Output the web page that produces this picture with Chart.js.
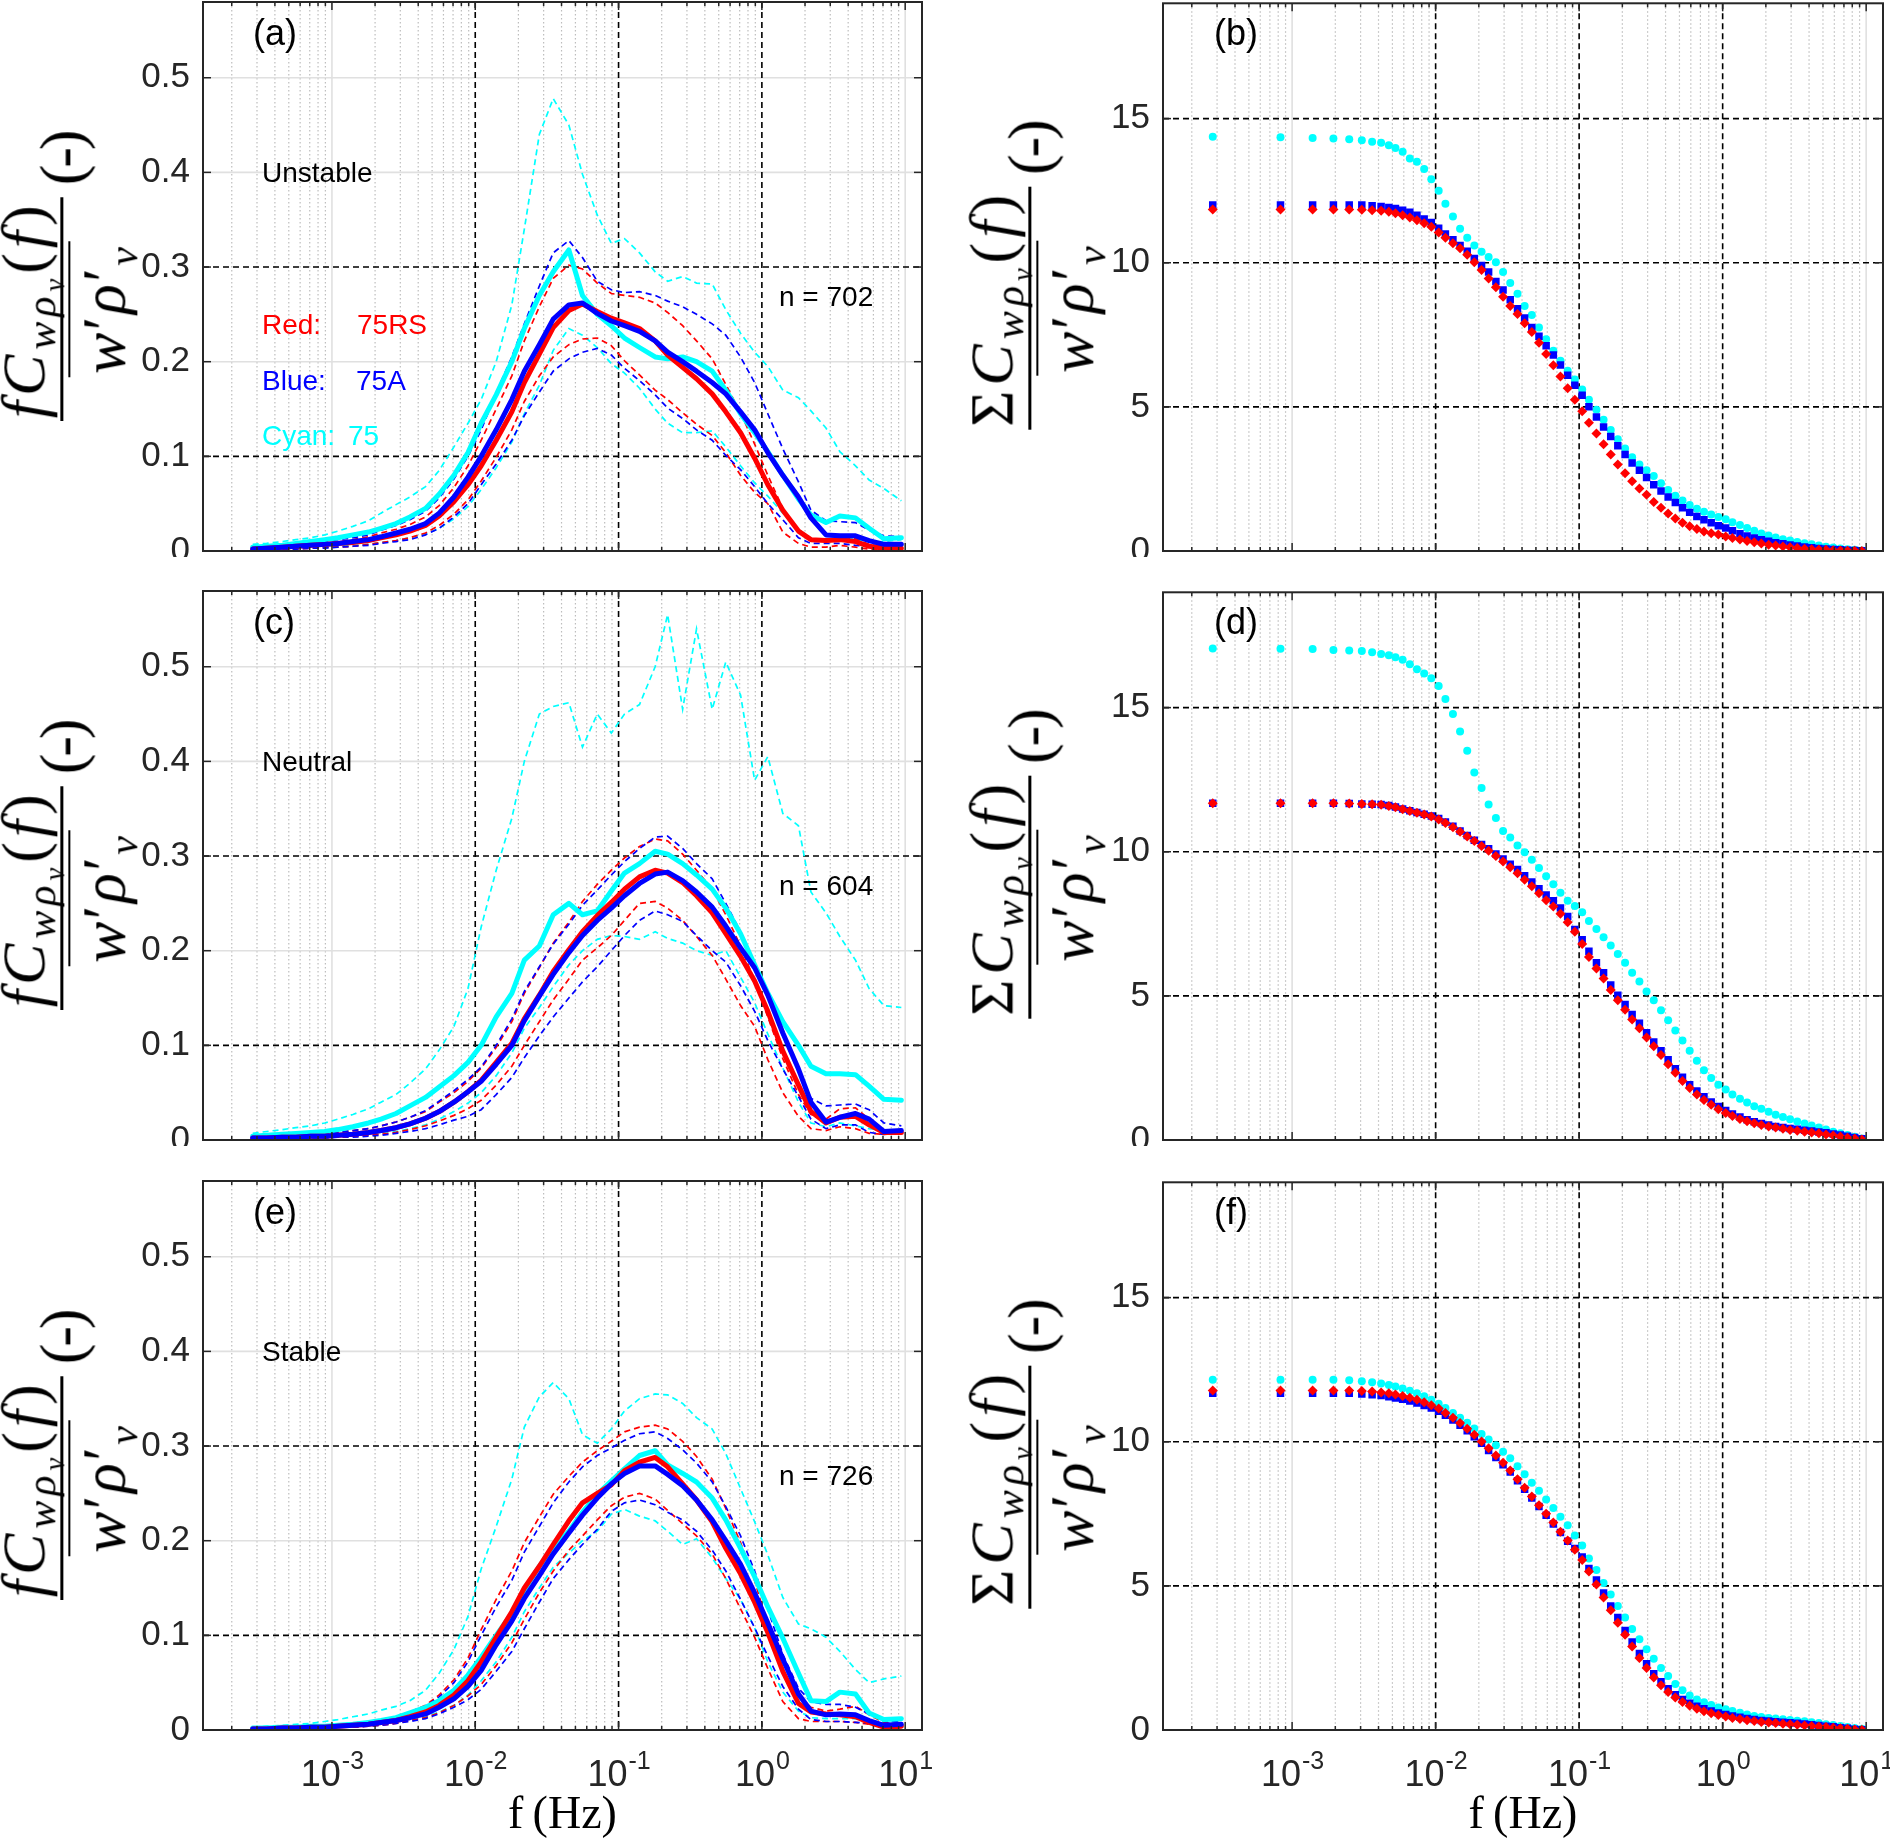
<!DOCTYPE html>
<html>
<head>
<meta charset="utf-8">
<script src="https://cdn.jsdelivr.net/npm/chart.js@4.4.0/dist/chart.umd.min.js"></script>
<style>
html, body { margin: 0; padding: 0; background: #fff; }
body { width: 1890px; height: 1848px; overflow: hidden; position: relative; font-family: "Liberation Sans", Arial, sans-serif; }
.panel { position: absolute; }
.txt { position: absolute; white-space: nowrap; line-height: 1; }
.ylab { position: absolute; transform: translate(-50%, -50%) rotate(-90deg); font-family: "Liberation Serif", "Times New Roman", serif; font-size: 62px; display: flex; align-items: center; white-space: nowrap; color: #000; }
.ylab sub { font-size: 68%; vertical-align: -0.32em; line-height: 0; }
.frac { display: inline-flex; flex-direction: column; align-items: center; margin-right: 12px; }
.frac .num { height: 1.2em; box-sizing: border-box; display: flex; align-items: flex-end; padding: 0 3px 6px; line-height: 1; letter-spacing: 0.08em; }
.frac .bar { align-self: stretch; height: 2.5px; background: #000; }
.frac .den { height: 1.2em; box-sizing: border-box; display: flex; align-items: flex-start; justify-content: center; padding-top: 5px; line-height: 1; letter-spacing: 0.04em; }
.frac .ovl { border-top: 2.5px solid #000; padding: 2px 3px 0; }
.unit { font-size: 62px; letter-spacing: -0.05em; font-weight: normal; }
.xlab { position: absolute; font-family: "Liberation Serif", "Times New Roman", serif; font-size: 46px; white-space: nowrap; line-height: 1; transform: translateX(-50%); }
</style>
</head>
<body>
<script>
// frequency grid of the spectra (Hz)
const F = [0.00028, 0.00035, 0.00045, 0.00056, 0.00071, 0.00089, 0.0011, 0.0014, 0.0018, 0.0022,
    0.0028, 0.0035, 0.0045, 0.0056, 0.0071, 0.0089, 0.011, 0.014, 0.018, 0.022,
    0.028, 0.035, 0.045, 0.056, 0.071, 0.089, 0.11, 0.14, 0.18, 0.22,
    0.28, 0.35, 0.45, 0.56, 0.71, 0.89, 1.1, 1.4, 1.8, 2.2,
    2.8, 3.5, 4.5, 5.6, 7.1, 9.4];

// (a) unstable
const a_cyan = [.004, .005, .006, .008, .010, .012, .014, .017, .020, .024, .029, .036, .045, .060, .080, .104, .135, .165, .200, .235, .270, .295, .318, .270, .250, .238, .225, .215, .205, .203, .205, .200, .190, .170, .145, .125, .105, .080, .055, .038, .030, .037, .035, .024, .013, .014];
const a_cyan_hi = [.007, .008, .010, .012, .014, .017, .021, .026, .032, .040, .049, .057, .068, .085, .110, .135, .160, .200, .260, .340, .440, .478, .450, .398, .355, .325, .330, .315, .295, .285, .290, .283, .282, .255, .230, .210, .195, .170, .162, .148, .130, .105, .090, .075, .066, .053];
const a_cyan_lo = [.001, .002, .002, .003, .004, .004, .005, .006, .007, .009, .011, .014, .018, .024, .034, .047, .065, .088, .115, .145, .175, .212, .235, .228, .215, .198, .188, .172, .150, .135, .125, .125, .127, .110, .090, .072, .058, .040, .023, .013, .012, .015, .012, .010, .010, .012];
const a_blue = [.002, .003, .004, .005, .006, .007, .008, .010, .012, .015, .019, .023, .029, .040, .057, .078, .100, .128, .160, .190, .218, .245, .260, .262, .251, .243, .238, .232, .222, .210, .200, .190, .178, .166, .147, .128, .104, .080, .057, .035, .017, .016, .016, .011, .007, .007];
const a_blue_hi = [.003, .004, .005, .006, .008, .010, .012, .014, .017, .022, .027, .033, .042, .056, .076, .100, .128, .167, .205, .240, .280, .315, .328, .310, .285, .276, .273, .274, .270, .264, .258, .250, .240, .228, .205, .178, .145, .108, .073, .043, .032, .031, .030, .022, .016, .015];
const a_blue_lo = [.001, .001, .002, .002, .003, .003, .004, .005, .006, .008, .010, .012, .017, .024, .036, .050, .070, .092, .117, .143, .168, .190, .203, .210, .214, .207, .193, .180, .165, .151, .140, .128, .117, .101, .086, .068, .050, .033, .014, .008, .008, .008, .006, .005, .007, .008];
const a_red = [.002, .003, .004, .005, .006, .007, .008, .009, .011, .014, .017, .021, .027, .037, .052, .070, .090, .117, .147, .178, .208, .236, .254, .261, .253, .246, .241, .235, .222, .207, .194, .182, .166, .147, .125, .098, .070, .043, .021, .012, .011, .012, .010, .005, .003, .003];
const a_red_hi = [.002, .003, .004, .005, .007, .008, .010, .012, .015, .019, .023, .028, .036, .048, .067, .090, .117, .150, .185, .222, .258, .288, .302, .298, .283, .272, .270, .268, .262, .252, .238, .222, .203, .176, .146, .113, .080, .045, .022, .012, .010, .015, .013, .007, .004, .004];
const a_red_lo = [.001, .001, .002, .002, .003, .004, .004, .005, .007, .009, .011, .014, .019, .027, .039, .054, .074, .099, .128, .158, .185, .205, .218, .224, .225, .217, .201, .186, .170, .160, .146, .134, .122, .104, .080, .062, .050, .020, .008, .004, .004, .006, .004, .002, .002, .002];

// (c) neutral
const c_cyan = [.004, .005, .006, .007, .008, .009, .011, .014, .018, .022, .028, .036, .045, .056, .068, .082, .100, .130, .155, .190, .205, .238, .250, .238, .242, .263, .282, .292, .305, .302, .292, .280, .265, .245, .218, .185, .155, .125, .100, .078, .070, .070, .069, .057, .043, .042];
const c_cyan_hi = [.007, .009, .011, .013, .015, .018, .022, .027, .033, .040, .048, .060, .075, .095, .120, .160, .225, .285, .340, .400, .450, .458, .462, .415, .450, .430, .450, .460, .500, .555, .455, .540, .455, .505, .470, .380, .405, .345, .332, .262, .240, .215, .190, .160, .142, .140];
const c_cyan_lo = [.001, .001, .002, .002, .002, .003, .003, .004, .005, .007, .009, .012, .016, .022, .030, .039, .050, .068, .092, .118, .140, .162, .185, .200, .212, .216, .215, .212, .220, .213, .208, .200, .195, .200, .172, .145, .112, .076, .040, .018, .014, .018, .015, .012, .010, .011];
const c_blue = [.002, .002, .003, .003, .004, .004, .005, .006, .008, .010, .013, .017, .023, .030, .040, .051, .062, .080, .100, .126, .152, .175, .198, .216, .232, .245, .258, .271, .281, .283, .274, .262, .246, .226, .203, .182, .153, .113, .075, .040, .019, .024, .028, .022, .009, .010];
const c_blue_hi = [.003, .003, .004, .005, .006, .007, .008, .010, .012, .015, .019, .024, .031, .041, .052, .064, .077, .100, .128, .157, .183, .207, .228, .248, .264, .280, .294, .308, .320, .321, .308, .292, .276, .250, .220, .185, .150, .110, .072, .044, .036, .037, .038, .032, .018, .015];
const c_blue_lo = [.001, .001, .001, .002, .002, .002, .003, .003, .004, .005, .007, .009, .012, .016, .021, .025, .032, .048, .066, .087, .110, .130, .150, .167, .183, .200, .216, .232, .242, .238, .231, .216, .200, .188, .163, .136, .105, .075, .046, .022, .012, .016, .016, .008, .006, .010];
const c_red = [.002, .002, .003, .003, .004, .004, .005, .006, .008, .010, .013, .017, .023, .030, .040, .051, .063, .082, .102, .128, .153, .178, .201, .220, .237, .251, .265, .278, .285, .282, .272, .258, .240, .218, .194, .168, .136, .094, .058, .030, .018, .024, .025, .016, .008, .008];
const c_red_hi = [.003, .003, .004, .005, .006, .007, .008, .010, .012, .015, .019, .024, .030, .040, .050, .062, .076, .098, .125, .155, .182, .208, .230, .252, .270, .285, .298, .310, .318, .316, .302, .285, .265, .238, .205, .168, .130, .086, .048, .027, .022, .033, .034, .022, .010, .008];
const c_red_lo = [.001, .001, .002, .002, .002, .003, .003, .004, .005, .006, .008, .011, .015, .020, .026, .033, .042, .058, .078, .100, .125, .148, .170, .190, .203, .216, .232, .250, .252, .245, .232, .215, .195, .170, .142, .120, .085, .050, .025, .012, .010, .014, .012, .007, .006, .007];

// (e) stable
const e_cyan = [.002, .002, .003, .003, .004, .004, .005, .006, .008, .010, .013, .018, .024, .031, .042, .058, .077, .100, .123, .148, .173, .192, .210, .230, .249, .263, .276, .290, .295, .280, .271, .262, .245, .222, .192, .162, .130, .097, .060, .031, .030, .040, .038, .018, .011, .012];
const e_cyan_hi = [.003, .004, .005, .006, .007, .009, .011, .014, .017, .021, .025, .031, .042, .060, .085, .120, .170, .215, .265, .320, .352, .367, .350, .312, .303, .318, .337, .350, .355, .354, .345, .330, .318, .292, .255, .220, .185, .140, .112, .107, .098, .083, .064, .050, .054, .057];
const e_cyan_lo = [.001, .001, .001, .002, .002, .003, .003, .004, .005, .006, .008, .011, .014, .019, .026, .037, .052, .072, .098, .125, .150, .172, .187, .200, .210, .228, .233, .226, .221, .210, .196, .202, .182, .160, .138, .108, .072, .040, .020, .013, .012, .012, .012, .010, .008, .009];
const e_blue = [.001, .001, .002, .002, .003, .003, .004, .005, .006, .008, .010, .013, .017, .024, .033, .046, .063, .090, .115, .139, .163, .186, .208, .227, .245, .260, .271, .279, .279, .270, .258, .243, .222, .200, .175, .145, .113, .075, .038, .020, .016, .017, .016, .010, .005, .006];
const e_blue_hi = [.002, .002, .003, .003, .004, .005, .006, .007, .009, .011, .014, .019, .025, .035, .050, .072, .100, .130, .158, .188, .215, .240, .262, .278, .290, .298, .306, .313, .315, .308, .296, .282, .262, .236, .205, .168, .128, .080, .044, .030, .027, .027, .024, .017, .010, .009];
const e_blue_lo = [.001, .001, .001, .002, .002, .002, .003, .003, .004, .005, .007, .009, .012, .017, .024, .032, .043, .062, .083, .107, .135, .160, .180, .196, .212, .231, .240, .243, .238, .230, .222, .210, .190, .168, .138, .108, .078, .046, .022, .011, .009, .009, .008, .007, .007, .007];
const e_red = [.001, .001, .002, .002, .003, .003, .004, .005, .006, .008, .010, .014, .019, .026, .037, .052, .072, .098, .125, .150, .173, .196, .221, .240, .250, .259, .274, .283, .288, .278, .260, .243, .220, .192, .165, .135, .103, .062, .028, .019, .017, .016, .014, .008, .003, .004];
const e_red_hi = [.002, .002, .003, .003, .004, .005, .006, .007, .009, .011, .014, .019, .026, .037, .053, .076, .106, .138, .168, .198, .225, .249, .268, .283, .295, .305, .315, .320, .322, .318, .305, .289, .265, .234, .198, .158, .110, .063, .035, .024, .020, .022, .025, .016, .008, .006];
const e_red_lo = [.001, .001, .001, .002, .002, .002, .003, .003, .004, .005, .007, .010, .013, .018, .026, .036, .048, .068, .092, .117, .145, .168, .190, .205, .222, .237, .246, .250, .244, .232, .218, .205, .186, .160, .128, .098, .065, .030, .012, .009, .009, .009, .008, .006, .004, .004];

// frequency grid of the cumulative sums (Hz)
const FC = [0.00028, 0.00083, 0.00139, 0.00194, 0.0025, 0.00306, 0.00361, 0.00417, 0.00472,
    0.00525, 0.00589, 0.00661, 0.00741, 0.00832, 0.00933,
    0.0105, 0.0117, 0.0132, 0.0148, 0.0166, 0.0186, 0.0209, 0.0234, 0.0263, 0.0295, 0.0331, 0.0372, 0.0417, 0.0468, 0.0525, 0.0589, 0.0661, 0.0741, 0.0832, 0.0933,
    0.105, 0.117, 0.132, 0.148, 0.166, 0.186, 0.209, 0.234, 0.263, 0.295, 0.331, 0.372, 0.417, 0.468, 0.525, 0.589, 0.661, 0.741, 0.832, 0.933,
    1.05, 1.17, 1.32, 1.48, 1.66, 1.86, 2.09, 2.34, 2.63, 2.95, 3.31, 3.72, 4.17, 4.68, 5.25, 5.89, 6.61, 7.41, 8.32, 9.33];

// (b) unstable
const b_cyan = [14.37, 14.35, 14.33, 14.31, 14.28, 14.25, 14.2, 14.16, 14.08, 13.98, 13.85, 13.62, 13.5, 13.25, 12.9, 12.5, 12.05, 11.6, 11.18, 10.87, 10.6, 10.38, 10.2, 10.02, 9.68, 9.3, 8.92, 8.5, 8.19, 7.75, 7.35, 6.95, 6.6, 6.25, 5.95, 5.6, 5.25, 4.9, 4.55, 4.2, 3.88, 3.56, 3.25, 3.0, 2.8, 2.6, 2.35, 2.12, 1.92, 1.75, 1.6, 1.47, 1.36, 1.27, 1.18, 1.1, 1.0, 0.9, 0.8, 0.7, 0.61, 0.54, 0.47, 0.41, 0.36, 0.31, 0.27, 0.23, 0.19, 0.15, 0.12, 0.09, 0.06, 0.04, 0.02];
const b_blue = [12.0, 12.0, 12.0, 12.0, 12.0, 12.0, 11.98, 11.95, 11.92, 11.88, 11.82, 11.75, 11.65, 11.52, 11.4, 11.2, 11.0, 10.8, 10.6, 10.4, 10.15, 9.9, 9.68, 9.35, 9.05, 8.72, 8.4, 8.08, 7.75, 7.45, 7.12, 6.8, 6.45, 6.1, 5.75, 5.4, 5.0, 4.65, 4.3, 3.97, 3.65, 3.35, 3.05, 2.8, 2.55, 2.3, 2.08, 1.87, 1.68, 1.5, 1.34, 1.2, 1.08, 0.98, 0.88, 0.8, 0.7, 0.6, 0.52, 0.45, 0.39, 0.34, 0.29, 0.25, 0.21, 0.17, 0.14, 0.11, 0.09, 0.07, 0.05, 0.04, 0.03, 0.02, 0.01];
const b_red = [11.85, 11.85, 11.85, 11.85, 11.85, 11.84, 11.82, 11.8, 11.77, 11.72, 11.65, 11.57, 11.47, 11.37, 11.25, 11.05, 10.87, 10.68, 10.5, 10.28, 10.02, 9.75, 9.45, 9.15, 8.82, 8.5, 8.22, 7.9, 7.6, 7.22, 6.83, 6.44, 6.05, 5.65, 5.25, 4.85, 4.45, 4.08, 3.7, 3.35, 3.0, 2.7, 2.42, 2.17, 1.95, 1.7, 1.5, 1.3, 1.13, 0.98, 0.86, 0.76, 0.68, 0.62, 0.57, 0.5, 0.45, 0.4, 0.35, 0.3, 0.26, 0.22, 0.19, 0.16, 0.13, 0.1, 0.08, 0.06, 0.05, 0.04, 0.03, 0.02, 0.01, 0.01, 0.0];

// (d) neutral
const d_cyan = [17.05, 17.04, 17.03, 17.0, 16.98, 16.96, 16.92, 16.86, 16.82, 16.75, 16.66, 16.5, 16.33, 16.18, 16.02, 15.75, 15.3, 14.78, 14.17, 13.5, 12.75, 12.21, 11.64, 11.17, 10.72, 10.49, 10.22, 9.98, 9.72, 9.44, 9.15, 8.87, 8.58, 8.3, 8.12, 7.9, 7.6, 7.32, 7.03, 6.75, 6.45, 6.15, 5.8, 5.5, 5.15, 4.85, 4.5, 4.15, 3.8, 3.45, 3.1, 2.75, 2.42, 2.15, 1.92, 1.75, 1.58, 1.43, 1.3, 1.17, 1.08, 0.98, 0.88, 0.8, 0.72, 0.64, 0.57, 0.5, 0.43, 0.36, 0.29, 0.23, 0.17, 0.11, 0.05];
const d_blue = [11.68, 11.68, 11.68, 11.68, 11.67, 11.66, 11.65, 11.64, 11.6, 11.55, 11.48, 11.42, 11.36, 11.3, 11.24, 11.15, 11.03, 10.88, 10.72, 10.56, 10.4, 10.25, 10.1, 9.92, 9.75, 9.57, 9.38, 9.17, 8.95, 8.72, 8.5, 8.3, 8.05, 7.75, 7.3, 6.95, 6.55, 6.15, 5.8, 5.38, 5.02, 4.7, 4.35, 4.05, 3.72, 3.4, 3.1, 2.78, 2.47, 2.18, 1.92, 1.7, 1.5, 1.32, 1.16, 1.02, 0.9, 0.8, 0.7, 0.63, 0.57, 0.52, 0.47, 0.43, 0.4, 0.37, 0.34, 0.31, 0.28, 0.25, 0.21, 0.17, 0.13, 0.09, 0.04];
const d_red = [11.68, 11.68, 11.68, 11.68, 11.67, 11.66, 11.65, 11.63, 11.59, 11.54, 11.47, 11.41, 11.35, 11.29, 11.22, 11.12, 11.0, 10.85, 10.69, 10.53, 10.37, 10.2, 10.03, 9.85, 9.66, 9.46, 9.25, 9.03, 8.8, 8.56, 8.32, 8.1, 7.85, 7.55, 7.22, 6.8, 6.35, 5.95, 5.6, 5.2, 4.85, 4.52, 4.18, 3.88, 3.56, 3.25, 2.95, 2.63, 2.33, 2.05, 1.8, 1.58, 1.39, 1.22, 1.07, 0.94, 0.83, 0.73, 0.65, 0.58, 0.52, 0.47, 0.43, 0.39, 0.35, 0.32, 0.29, 0.26, 0.23, 0.19, 0.16, 0.12, 0.08, 0.05, 0.02];

// (f) stable
const f_cyan = [12.15, 12.15, 12.15, 12.15, 12.13, 12.1, 12.06, 12.02, 11.97, 11.92, 11.85, 11.77, 11.68, 11.58, 11.46, 11.32, 11.17, 11.0, 10.83, 10.66, 10.46, 10.27, 10.08, 9.88, 9.65, 9.43, 9.15, 8.87, 8.58, 8.3, 8.0, 7.7, 7.4, 7.1, 6.75, 6.4, 5.95, 5.55, 5.1, 4.7, 4.3, 3.9, 3.5, 3.15, 2.8, 2.47, 2.15, 1.87, 1.6, 1.38, 1.2, 1.06, 0.96, 0.87, 0.78, 0.72, 0.66, 0.6, 0.54, 0.49, 0.45, 0.42, 0.4, 0.37, 0.35, 0.32, 0.3, 0.27, 0.24, 0.2, 0.17, 0.14, 0.1, 0.07, 0.04];
const f_blue = [11.68, 11.68, 11.68, 11.68, 11.68, 11.66, 11.63, 11.6, 11.56, 11.52, 11.47, 11.41, 11.34, 11.26, 11.17, 11.06, 10.92, 10.75, 10.57, 10.38, 10.17, 9.95, 9.7, 9.45, 9.2, 8.95, 8.65, 8.35, 8.05, 7.75, 7.45, 7.15, 6.85, 6.55, 6.3, 6.0, 5.6, 5.2, 4.75, 4.3, 3.9, 3.45, 3.05, 2.65, 2.3, 1.95, 1.67, 1.43, 1.22, 1.06, 0.93, 0.82, 0.74, 0.66, 0.59, 0.54, 0.49, 0.44, 0.4, 0.36, 0.33, 0.31, 0.29, 0.27, 0.25, 0.23, 0.21, 0.18, 0.16, 0.13, 0.11, 0.08, 0.06, 0.03, 0.01];
const f_red = [11.78, 11.78, 11.78, 11.78, 11.78, 11.76, 11.74, 11.71, 11.68, 11.64, 11.59, 11.53, 11.46, 11.37, 11.27, 11.15, 11.0, 10.83, 10.65, 10.45, 10.24, 10.01, 9.77, 9.52, 9.27, 9.0, 8.7, 8.4, 8.1, 7.8, 7.5, 7.2, 6.88, 6.57, 6.25, 5.9, 5.5, 5.05, 4.6, 4.15, 3.72, 3.3, 2.9, 2.5, 2.15, 1.82, 1.55, 1.32, 1.13, 0.97, 0.84, 0.74, 0.65, 0.58, 0.52, 0.47, 0.42, 0.38, 0.34, 0.31, 0.28, 0.26, 0.24, 0.22, 0.2, 0.18, 0.16, 0.14, 0.12, 0.1, 0.08, 0.06, 0.04, 0.02, 0.01];

// axes
const X_TICKS = [0.001, 0.01, 0.1, 1, 10];
const X_TICK_EXP = ['-3', '-2', '-1', '0', '1'];
const SPEC_Y_TICKS = [0, 0.1, 0.2, 0.3, 0.4, 0.5];
const SPEC_Y_LABELS = ['0', '0.1', '0.2', '0.3', '0.4', '0.5'];
const CUM_Y_TICKS = [0, 5, 10, 15];
const CUM_Y_LABELS = ['0', '5', '10', '15'];

const PANEL_TAGS = [['(a)', '(b)'], ['(c)', '(d)'], ['(e)', '(f)']];
const STABILITY = ['Unstable', 'Neutral', 'Stable'];
const COUNTS = ['n = 702', 'n = 604', 'n = 726'];
const LEGEND = [['Red:', '75RS'], ['Blue:', '75A'], ['Cyan:', '75']];

// layout
const COL_LEFT = [203, 1163];
const COL_WIDTH = [719, 720];
const ROW_TOP = [1.5, 590.5, 1180.5];
const PLOT_H = 549.5;
const Y_AXIS_W = 90, PAD_TOP = 4, PAD_RIGHT = 40;
const X_MIN = 1.26e-4, X_MAX = 13.1;
const RED = '#ff0000', BLUE = '#0000ff', CYAN = '#00ffff';
const SANS = '"Liberation Sans", Arial, sans-serif';
const TICK_FONT = { family: SANS, size: 35 };

const MINOR_X = [];
for (let e = -4; e <= 1; e++) {
    for (let m = 2; m <= 9; m++) MINOR_X.push(m * Math.pow(10, e));
}

const panel_grid = {
    id: 'panel_grid',
    beforeDatasetsDraw(chart, args, o) {
        const ctx = chart.ctx, a = chart.chartArea, sx = chart.scales.x, sy = chart.scales.y;
        const vline = (v) => {
            const p = sx.getPixelForValue(v);
            if (p < a.left + 1 || p > a.right - 1) return;
            ctx.beginPath(); ctx.moveTo(p, a.top); ctx.lineTo(p, a.bottom); ctx.stroke();
        };
        const hline = (v) => {
            const p = sy.getPixelForValue(v);
            if (p < a.top + 1 || p > a.bottom - 1) return;
            ctx.beginPath(); ctx.moveTo(a.left, p); ctx.lineTo(a.right, p); ctx.stroke();
        };
        ctx.save();
        ctx.lineWidth = 1.2;
        ctx.strokeStyle = '#bdbdbd';
        ctx.setLineDash([1.5, 2.5]);
        MINOR_X.forEach(vline);
        ctx.setLineDash([]);
        ctx.strokeStyle = '#e0e0e0';
        ctx.lineWidth = 1.6;
        o.gray_x.forEach(vline);
        o.gray_y.forEach(hline);
        ctx.setLineDash([6, 4]);
        ctx.strokeStyle = '#000';
        ctx.lineWidth = 1.6;
        o.dash_x.forEach(vline);
        o.dash_y.forEach(hline);
        ctx.restore();
    },
    afterDatasetsDraw(chart, args, o) {
        const ctx = chart.ctx, a = chart.chartArea, sx = chart.scales.x, sy = chart.scales.y;
        const seg = (x1, y1, x2, y2) => { ctx.beginPath(); ctx.moveTo(x1, y1); ctx.lineTo(x2, y2); ctx.stroke(); };
        ctx.save();
        ctx.strokeStyle = '#262626';
        ctx.lineWidth = 1.5;
        o.y_ticks.forEach(v => {
            const p = sy.getPixelForValue(v);
            seg(a.left, p, a.left + 8, p);
            seg(a.right - 8, p, a.right, p);
        });
        X_TICKS.forEach(v => {
            const p = sx.getPixelForValue(v);
            if (p > a.right) return;
            seg(p, a.bottom, p, a.bottom - 8);
            seg(p, a.top, p, a.top + 8);
        });
        MINOR_X.forEach(v => {
            const p = sx.getPixelForValue(v);
            if (p < a.left || p > a.right) return;
            seg(p, a.bottom, p, a.bottom - 4);
            seg(p, a.top, p, a.top + 4);
        });
        ctx.lineWidth = 2;
        ctx.strokeRect(a.left, a.top, a.right - a.left, a.bottom - a.top);
        // decade labels 10^k under the bottom row
        if (o.x_labels) {
            ctx.fillStyle = '#262626';
            ctx.textBaseline = 'alphabetic';
            ctx.textAlign = 'left';
            X_TICKS.forEach((v, i) => {
                const p = sx.getPixelForValue(v);
                ctx.font = '36px ' + SANS;
                const wb = ctx.measureText('10').width;
                ctx.font = '25px ' + SANS;
                const we = ctx.measureText(X_TICK_EXP[i]).width;
                const x0 = p - (wb + we) / 2;
                ctx.font = '36px ' + SANS;
                ctx.fillText('10', x0, a.bottom + 56);
                ctx.font = '25px ' + SANS;
                ctx.fillText(X_TICK_EXP[i], x0 + wb + 1, a.bottom + 39);
            });
        }
        ctx.restore();
    }
};
Chart.register(panel_grid);

function pts(xs, ys) {
    return xs.map((x, i) => ({ x: x, y: ys[i] }));
}

function solid(data, color) {
    return { data: pts(F, data), borderColor: color, borderWidth: 5, pointRadius: 0, borderJoinStyle: 'round', borderCapStyle: 'round', tension: 0 };
}

function dashed(data, color) {
    return { data: pts(F, data), borderColor: color, borderWidth: 1.7, borderDash: [6, 4], pointRadius: 0, tension: 0 };
}

function marks(data, color, style, radius) {
    return { data: pts(FC, data), backgroundColor: color, borderColor: color, borderWidth: 0, pointStyle: style, pointRadius: radius, showLine: false };
}

function build_panel(col, row, type, datasets, y_max, y_ticks, y_labels, grid) {
    const bottom_row = row === 2;
    const x_axis_h = bottom_row ? 80 : 6;
    const w = Y_AXIS_W + COL_WIDTH[col] + PAD_RIGHT;
    const h = PAD_TOP + PLOT_H + x_axis_h;
    const wrap = document.createElement('div');
    wrap.className = 'panel';
    wrap.style.left = (COL_LEFT[col] - Y_AXIS_W) + 'px';
    wrap.style.top = (ROW_TOP[row] - PAD_TOP) + 'px';
    wrap.style.width = w + 'px';
    wrap.style.height = h + 'px';
    const cv = document.createElement('canvas');
    cv.width = w;
    cv.height = h;
    cv.style.width = w + 'px';
    cv.style.height = h + 'px';
    wrap.appendChild(cv);
    document.body.appendChild(wrap);
    grid.y_ticks = y_ticks;
    grid.x_labels = bottom_row;
    return new Chart(cv.getContext('2d'), {
        type: type,
        data: { datasets: datasets },
        options: {
            responsive: false,
            animation: false,
            events: [],
            layout: { padding: { left: 0, top: PAD_TOP, right: PAD_RIGHT, bottom: 0 } },
            plugins: { legend: { display: false }, tooltip: { enabled: false }, panel_grid: grid },
            scales: {
                x: {
                    type: 'logarithmic',
                    min: X_MIN,
                    max: X_MAX,
                    grid: { display: false, drawTicks: false },
                    border: { display: false },
                    ticks: { display: false },
                    afterBuildTicks: s => { s.ticks = X_TICKS.map(v => ({ value: v })); },
                    afterFit: s => { s.height = x_axis_h; s.paddingLeft = 0; s.paddingRight = 0; }
                },
                y: {
                    type: 'linear',
                    min: 0,
                    max: y_max,
                    grid: { display: false, drawTicks: false },
                    border: { display: false },
                    ticks: {
                        padding: 13,
                        color: '#262626',
                        font: TICK_FONT,
                        callback: (v, i) => y_labels[i]
                    },
                    afterBuildTicks: s => { s.ticks = y_ticks.map(v => ({ value: v })); },
                    afterFit: s => { s.width = Y_AXIS_W; s.paddingTop = 0; s.paddingBottom = 0; }
                }
            }
        }
    });
}

const spectra = [
    [a_blue, a_red, a_cyan, a_blue_hi, a_blue_lo, a_red_hi, a_red_lo, a_cyan_hi, a_cyan_lo],
    [c_blue, c_red, c_cyan, c_blue_hi, c_blue_lo, c_red_hi, c_red_lo, c_cyan_hi, c_cyan_lo],
    [e_blue, e_red, e_cyan, e_blue_hi, e_blue_lo, e_red_hi, e_red_lo, e_cyan_hi, e_cyan_lo]
];
const ogives = [
    [b_red, b_blue, b_cyan],
    [d_red, d_blue, d_cyan],
    [f_red, f_blue, f_cyan]
];

for (let r = 0; r < 3; r++) {
    const s = spectra[r];
    build_panel(0, r, 'line', [
        solid(s[0], BLUE), solid(s[1], RED), solid(s[2], CYAN),
        dashed(s[3], BLUE), dashed(s[4], BLUE),
        dashed(s[5], RED), dashed(s[6], RED),
        dashed(s[7], CYAN), dashed(s[8], CYAN)
    ], 0.58, SPEC_Y_TICKS, SPEC_Y_LABELS,
        { gray_x: [0.001, 10], gray_y: [0.2, 0.4, 0.5], dash_x: [0.01, 0.1, 1], dash_y: [0.1, 0.3] });

    const g = ogives[r];
    build_panel(1, r, 'scatter', [
        marks(g[0], RED, 'rectRot', 5),
        marks(g[1], BLUE, 'rect', 5.3),
        marks(g[2], CYAN, 'circle', 4)
    ], 19, CUM_Y_TICKS, CUM_Y_LABELS,
        { gray_x: [0.001, 10], gray_y: [], dash_x: [0.01, 0.1, 1], dash_y: [5, 10, 15] });
}

// texts
function put_text(txt, left, baseline, size, color) {
    const d = document.createElement('div');
    d.className = 'txt';
    d.textContent = txt;
    d.style.left = left + 'px';
    d.style.top = (baseline - 0.8465 * size) + 'px';
    d.style.fontSize = size + 'px';
    d.style.color = color || '#000';
    document.body.appendChild(d);
}

const DEN = '<span class="bar"></span><span class="den"><span class="ovl"><i>w</i>′<i>ρ</i>′<sub><i>v</i></sub></span></span></span><span class="unit">(-)</span>';
const LEFT_LABEL = '<span class="frac"><span class="num"><i>f</i><i>C</i><sub><i>wρ</i><sub><i>v</i></sub></sub>(<i>f</i>)</span>' + DEN;
const RIGHT_LABEL = '<span class="frac"><span class="num">Σ<i>C</i><sub><i>wρ</i><sub><i>v</i></sub></sub>(<i>f</i>)</span>' + DEN;

function put_ylabel(html, cx, cy) {
    const d = document.createElement('div');
    d.className = 'ylab';
    d.innerHTML = html;
    d.style.left = cx + 'px';
    d.style.top = cy + 'px';
    document.body.appendChild(d);
}

for (let r = 0; r < 3; r++) {
    const top = ROW_TOP[r];
    put_text(PANEL_TAGS[r][0], COL_LEFT[0] + 50, top + 43.5, 36);
    put_text(PANEL_TAGS[r][1], COL_LEFT[1] + 51, top + 43.5, 36);
    put_text(STABILITY[r], COL_LEFT[0] + 59, top + 181.5, 28);
    put_text(COUNTS[r], COL_LEFT[0] + 576, top + 305, 28);
    put_ylabel(LEFT_LABEL, 62, top + 275.5);
    put_ylabel(RIGHT_LABEL, 1030, top + 274.5);
}
const legend_colors = [RED, BLUE, CYAN];
const legend_base = [333.5, 389.5, 444.5];
const legend_val_x = [154, 153, 145];
LEGEND.forEach((l, i) => {
    put_text(l[0], COL_LEFT[0] + 59, ROW_TOP[0] + legend_base[i], 28, legend_colors[i]);
    put_text(l[1], COL_LEFT[0] + legend_val_x[i], ROW_TOP[0] + legend_base[i], 28, legend_colors[i]);
});

['f\u2009(Hz)', 'f\u2009(Hz)'].forEach((t, i) => {
    const d = document.createElement('div');
    d.className = 'xlab';
    d.textContent = t;
    d.style.left = (COL_LEFT[i] + COL_WIDTH[i] / 2) + 'px';
    d.style.top = (1831 - 0.891 * 46) + 'px';
    document.body.appendChild(d);
});
</script>
</body>
</html>
